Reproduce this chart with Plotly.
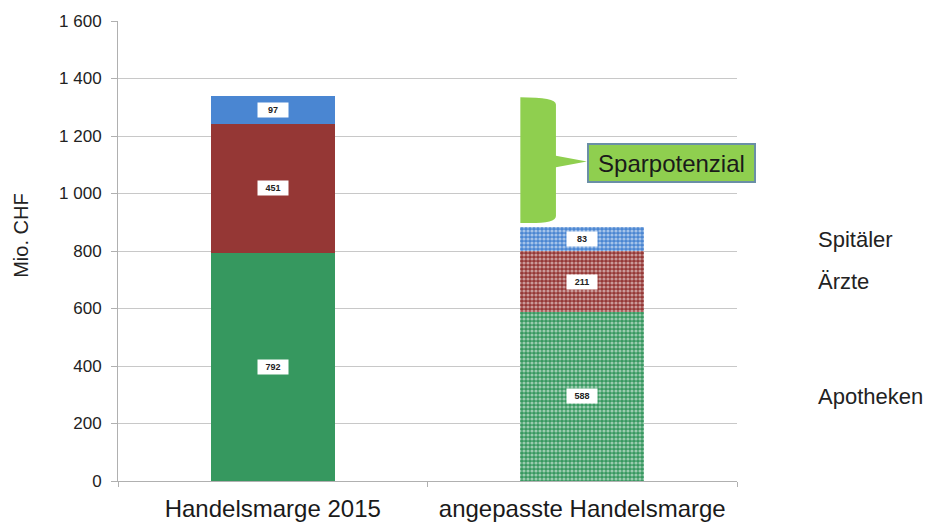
import plotly.graph_objects as go

categories = ["Handelsmarge 2015", "angepasste Handelsmarge"]
segments = ["Apotheken", "Ärzte", "Spitäler"]
apotheken = [792, 588]
aerzte = [451, 211]
spitaeler = [97, 83]
callout_text = "Sparpotenzial"
y_title = "Mio. CHF"
y_ticks = [0, 200, 400, 600, 800, 1000, 1200, 1400, 1600]

colors = ["#36985f", "#953735", "#4a86d2"]
series = [apotheken, aerzte, spitaeler]
FONT = "Liberation Sans, Arial"

xpos = list(range(len(categories)))
bar_w = 0.4

fig = go.Figure()
for name, vals, col in zip(segments, series, colors):
    fig.add_trace(go.Bar(
        x=xpos, y=vals, name=name, width=bar_w,
        marker=dict(
            color=[col, col],
            line=dict(width=0),
            pattern=dict(shape=["", "."], fgcolor="white", bgcolor=col,
                         size=4, solidity=0.5, fillmode="overlay"),
        ),
        showlegend=False, hoverinfo="skip",
    ))

annotations = []
# value labels in white boxes
for i in xpos:
    base = 0
    for vals in series:
        v = vals[i]
        annotations.append(dict(
            x=i, y=base + v / 2, xref="x", yref="y", text=f"<b>{v}</b>",
            showarrow=False, bgcolor="white", borderpad=2, width=26,
            font=dict(family=FONT, size=9, color="#222"),
        ))
        base += v

# right side segment labels aligned to second bar segments
base = 0
for name, vals in zip(segments, series):
    v = vals[1]
    annotations.append(dict(
        x=1.128, y=base + v / 2, xref="paper", yref="y", text=name,
        xanchor="left", showarrow=False,
        font=dict(family=FONT, size=22, color="#222"),
    ))
    base += v

total1 = sum(s[0] for s in series)
total2 = sum(s[1] for s in series)
mid = (total1 + total2) / 2

# callout box
annotations.append(dict(
    x=1.288, y=mid - 5, xref="x", yref="y", text=callout_text, showarrow=False,
    bgcolor="#8fcf4f", bordercolor="#6a8fa6", borderwidth=2, borderpad=3,
    width=159, height=30,
    font=dict(family=FONT, size=24, color="#1a1a1a"),
))

# y-axis title
annotations.append(dict(
    x=-0.1567, y=0.533, xref="paper", yref="paper", text=y_title,
    textangle=-90, showarrow=False, xanchor="center", yanchor="middle",
    font=dict(family=FONT, size=20, color="#222"),
))

# brace shape (in data coordinates)
x0 = 1 - bar_w / 2
xr = 0.915
tip = 1.015
ytop = total1 - 5
ybot = total2 + 15
r = 25
path = (f"M {x0},{ybot} L {x0},{ytop} "
        f"Q {xr},{ytop} {xr},{ytop - r} "
        f"L {xr},{mid + 20} L {tip},{mid} L {xr},{mid - 20} "
        f"L {xr},{ybot + r} Q {xr},{ybot} {x0 + 0.03},{ybot} Z")

fig.update_layout(
    width=926, height=516,
    margin=dict(l=110, r=197, t=13, b=43),
    plot_bgcolor="white", paper_bgcolor="white",
    barmode="stack",
    separators=", ",
    annotations=annotations,
    shapes=[dict(type="path", path=path, xref="x", yref="y",
                 fillcolor="#8fcf4f", line=dict(width=0), layer="above")],
    xaxis=dict(
        range=[-0.5, 1.5], tickvals=xpos, ticktext=categories,
        ticks="", showgrid=False, zeroline=False, automargin=False,
        showline=True, linecolor="#b0b0b0", linewidth=1,
        ticklabelstandoff=6,
        tickfont=dict(family=FONT, size=24, color="#1a1a1a"),
        minor=dict(tickvals=[-0.5, 0.5, 1.5], ticks="outside", ticklen=5,
                   tickcolor="#b0b0b0", showgrid=False),
    ),
    yaxis=dict(
        range=[0, 1600], tickvals=y_ticks, tickformat=",d", automargin=False,
        showgrid=True, gridcolor="#c8c8c8", gridwidth=1,
        zeroline=False, showline=True, linecolor="#b0b0b0", linewidth=1,
        ticks="outside", ticklen=6, tickcolor="#b0b0b0",
        ticklabelstandoff=6,
        tickfont=dict(family=FONT, size=17, color="#222"),
    ),
)

fig.write_html("out.html")
